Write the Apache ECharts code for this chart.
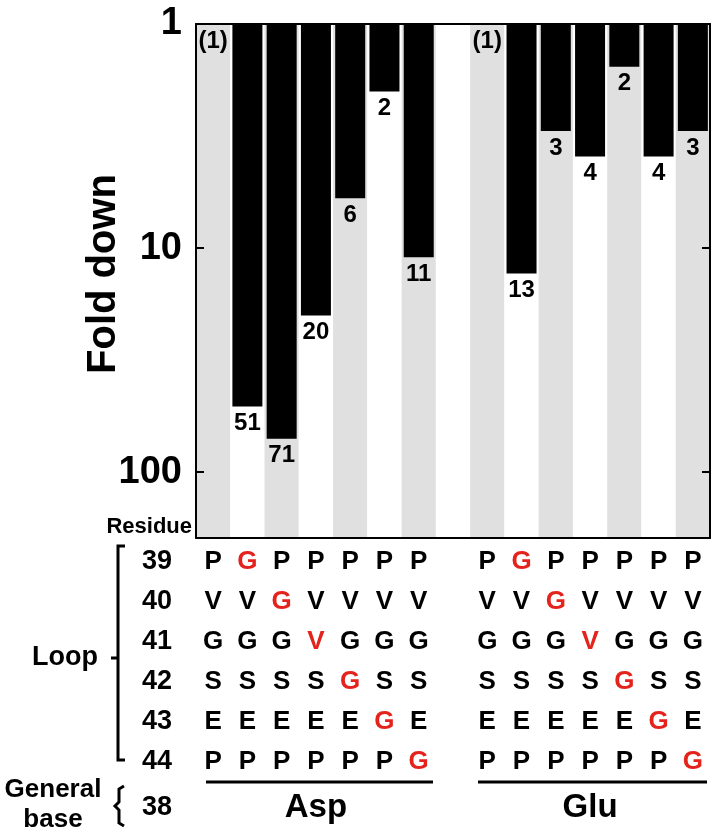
<!DOCTYPE html>
<html>
<head>
<meta charset="utf-8">
<script src="https://cdn.jsdelivr.net/npm/echarts@6/dist/echarts.min.js"></script>
<style>
html, body { margin: 0; background: #fff; }
#chart { width: 712px; height: 832px; }
</style>
</head>
<body>
<div id="chart"></div>
<script>
// fold down per variant (column 1 = wild type)
const aspFold = [1, 51, 71, 20, 6, 2, 11];
const gluFold = [1, 13, 3, 3.9, 1.55, 3.9, 3];
const groups = ['Asp', 'Glu'];
const residues = ['39', '40', '41', '42', '43', '44'];
const wildType = ['P', 'V', 'G', 'S', 'E', 'P'];
const mutant = ['G', 'G', 'V', 'G', 'G', 'G'];

const FONT = '"Liberation Sans", Arial, sans-serif';
const RED = '#e3231c';

// 7 columns per group, one empty column between groups
const categories = [];
const values = [];
[aspFold, gluFold].forEach(function (fold, g) {
    if (g > 0) {
        categories.push('');
        values.push('-');
    }
    fold.forEach(function (v, i) {
        categories.push(groups[g] + i);
        values.push(v);
    });
});

function colOf(name) {
    if (!name) return -1;
    return Number(name.slice(3));
}
function letter(row, name) {
    const j = colOf(name);
    if (j < 0) return '';
    if (j > 0 && j - 1 === row) return mutant[row];
    return wildType[row];
}
function isMutated(row, name) {
    const j = colOf(name);
    return j > 0 && j - 1 === row;
}

const bold = { fontFamily: FONT, fontWeight: 'bold', color: '#000' };
const gBold = { fontFamily: FONT, fontWeight: 'bold', fill: '#000' };

const xAxes = [
    {
        type: 'category',
        data: categories,
        axisLine: { show: false },
        axisTick: { show: false, interval: 0 },
        axisLabel: { show: false, interval: 0 },
        splitArea: {
            show: true,
            interval: 0,
            areaStyle: { color: ['#e0e0e0', '#ffffff'] },
        },
        name: 'Residue',
        nameLocation: 'start',
        nameGap: 4,
        nameTextStyle: Object.assign({ fontSize: 22, verticalAlign: 'bottom' }, bold),
    },
    {
        type: 'category',
        data: categories,
        position: 'bottom',
        z: 10,
        axisLine: { lineStyle: { color: '#000', width: 2 } },
        axisTick: { show: false },
        axisLabel: { show: false },
    },
    {
        type: 'category',
        data: categories,
        position: 'top',
        z: 10,
        axisLine: { lineStyle: { color: '#000', width: 2 } },
        axisTick: { show: false },
        axisLabel: { show: false },
    },
];

residues.forEach(function (res, r) {
    xAxes.push({
        type: 'category',
        data: categories,
        position: 'bottom',
        offset: 24 + 40 * r,
        axisLine: { show: false },
        axisTick: { show: false },
        axisLabel: Object.assign({}, bold, {
            interval: 0,
            margin: 0,
            verticalAlign: 'middle',
            fontSize: 26,
            formatter: function (v) { return letter(r, v); },
            color: function (v) { return isMutated(r, v) ? RED : '#000'; },
        }),
        name: res,
        nameLocation: 'start',
        nameGap: 24,
        nameTextStyle: Object.assign({ fontSize: 27, verticalAlign: 'middle' }, bold),
    });
});

// residue 38 row: the general base of each group
xAxes.push({
    type: 'category',
    data: categories,
    position: 'bottom',
    offset: 270,
    axisLine: { show: false },
    axisTick: { show: false },
    axisLabel: Object.assign({}, bold, {
        interval: 0,
        margin: 0,
        verticalAlign: 'middle',
        fontSize: 33,
        formatter: function (v) { return colOf(v) === 3 ? v.slice(0, 3) : ''; },
    }),
    name: '38',
    nameLocation: 'start',
    nameGap: 24,
    nameTextStyle: Object.assign({ fontSize: 27, verticalAlign: 'middle' }, bold),
});

function decadeLabel(v) {
    const e = Math.log10(v);
    return Math.abs(e - Math.round(e)) < 1e-6 ? String(Math.round(v)) : '';
}

const yBase = {
    type: 'log',
    logBase: 10,
    min: 1,
    max: 197,
    inverse: true,
    z: 10,
    axisLine: { show: true, lineStyle: { color: '#000', width: 2 } },
    axisTick: { show: true, inside: true, length: 8, lineStyle: { color: '#000', width: 2 } },
    splitLine: { show: false },
    minorTick: { show: false },
};

option = {
    animation: false,
    grid: {
        left: 196,
        top: 24,
        width: 514,
        height: 514,
        outerBoundsMode: 'none',
    },
    xAxis: xAxes,
    yAxis: [
        Object.assign({}, yBase, {
            position: 'left',
            axisLabel: Object.assign({}, bold, {
                fontSize: 38,
                margin: 14,
                padding: [0, 0, 14, 0],
                formatter: decadeLabel,
            }),
            name: 'Fold down',
            nameLocation: 'middle',
            nameGap: 72,
            nameMoveOverlap: false,
            nameTextStyle: Object.assign({ fontSize: 40, padding: [0, 0, 0, 14] }, bold),
        }),
        Object.assign({}, yBase, {
            position: 'right',
            axisLabel: { show: false },
        }),
    ],
    series: [{
        type: 'bar',
        data: values,
        barWidth: 30,
        itemStyle: { color: '#000' },
        label: Object.assign({}, bold, {
            show: true,
            position: 'bottom',
            distance: 5,
            fontSize: 24,
            formatter: function (p) {
                return p.value === 1 ? '(1)' : String(Math.round(p.value));
            },
        }),
    }],
    graphic: [
        { type: 'text', x: 65, y: 658, style: Object.assign({ text: 'Loop', fontSize: 27, align: 'center', verticalAlign: 'middle' }, gBold) },
        { type: 'text', x: 53, y: 805, style: Object.assign({ text: 'General\nbase', fontSize: 26, align: 'center', verticalAlign: 'middle', lineHeight: 30 }, gBold) },
        { type: 'polyline', shape: { points: [[125, 546], [118, 546], [118, 760], [125, 760]] }, style: { stroke: '#000', lineWidth: 3, fill: null } },
        { type: 'line', shape: { x1: 111, y1: 658, x2: 118, y2: 658 }, style: { stroke: '#000', lineWidth: 3 } },
        { type: 'polyline', shape: { points: [[124, 786], [119, 789], [119, 802], [115, 806], [119, 810], [119, 823], [124, 826]] }, style: { stroke: '#000', lineWidth: 3, fill: null } },
        { type: 'line', shape: { x1: 206, y1: 782, x2: 433, y2: 782 }, style: { stroke: '#000', lineWidth: 3 } },
        { type: 'line', shape: { x1: 478, y1: 782, x2: 707, y2: 782 }, style: { stroke: '#000', lineWidth: 3 } },
    ],
};

const chart = echarts.init(document.getElementById('chart'));
chart.setOption(option);
</script>
</body>
</html>
